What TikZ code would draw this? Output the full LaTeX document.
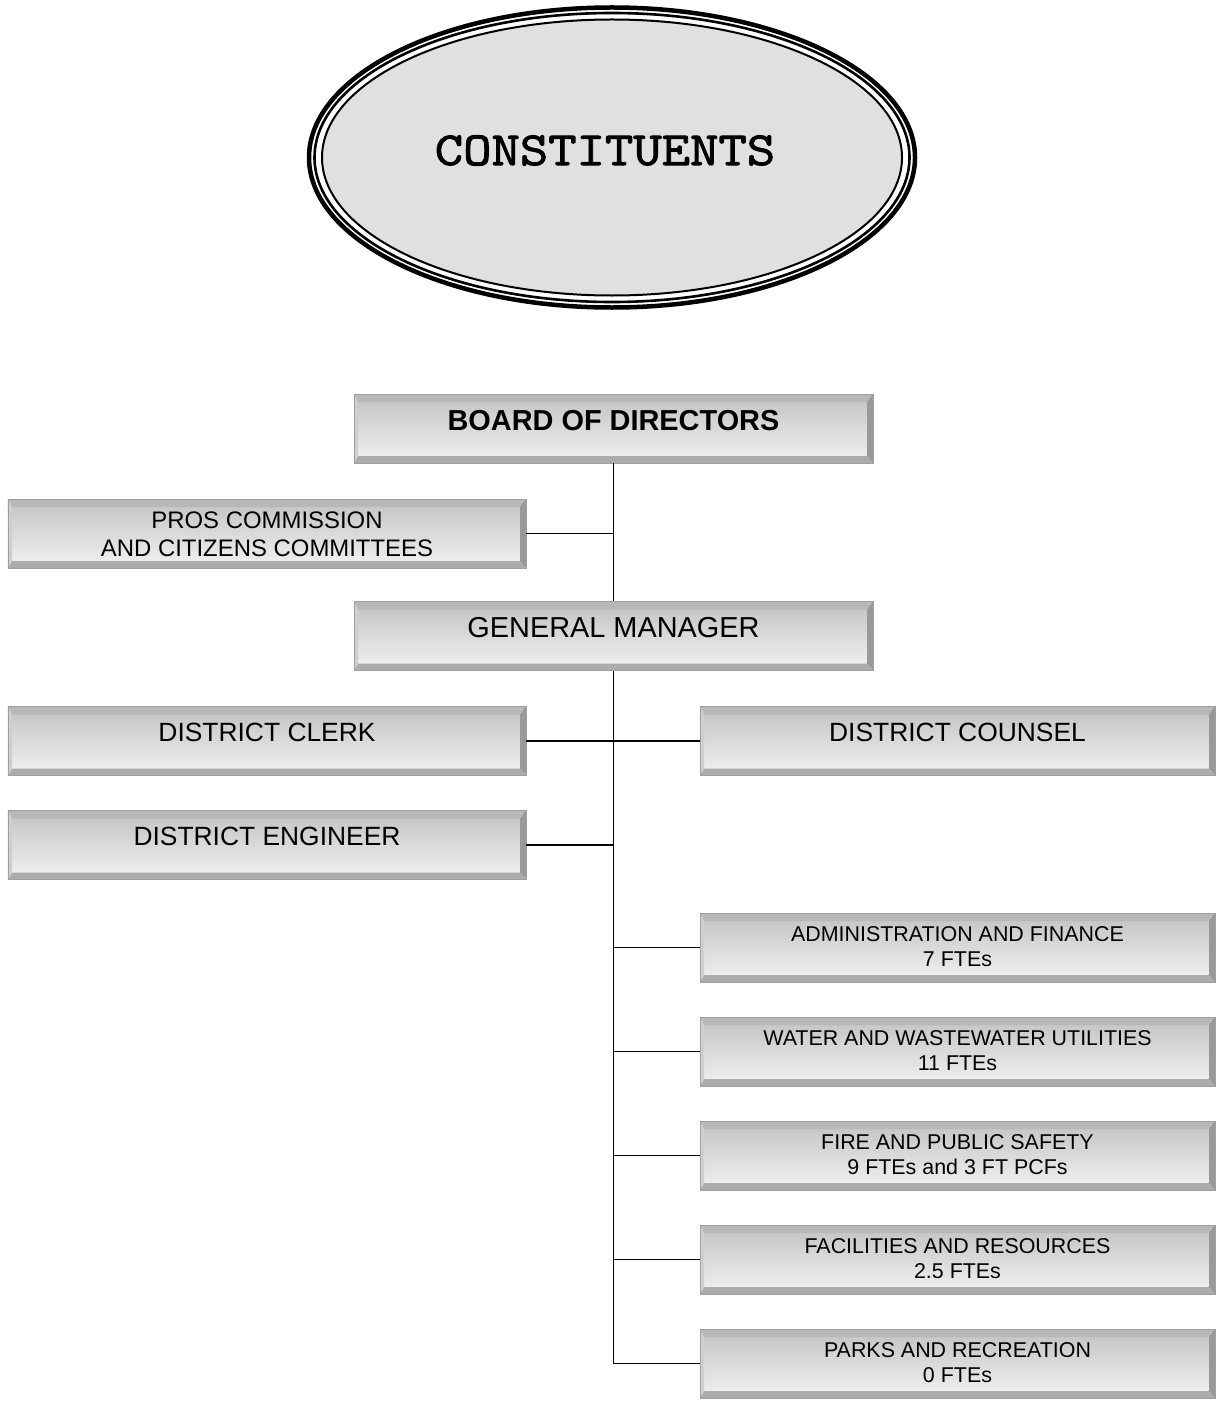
\documentclass[tikz,border=0pt]{standalone}
\usepackage{fontspec}
\setmainfont{Liberation Sans}
\newfontfamily\typewriter[FakeBold=1.8, FakeStretch=1.13]{lmmono10-regular.otf}
\usetikzlibrary{calc,shapes.geometric}

\tikzset{
  % bevelled grey panel used for every position in the chart
  panel/.style={rectangle, inner sep=0pt, minimum height=69bp, draw=gray!75, line width=0.6bp,
    path picture={
      \path (path picture bounding box.south west) coordinate (pSW)
            (path picture bounding box.north east) coordinate (pNE)
            (path picture bounding box.north west) coordinate (pNW)
            (path picture bounding box.south east) coordinate (pSE);
      \shade[top color=gray!48, bottom color=gray!10] (pSW) rectangle (pNE);
      \fill[gray!56] (pNW) -- (pNE) -- ($(pNE)+(-6bp,-8bp)$) -- ($(pNW)+(4bp,-8bp)$) -- cycle;
      \fill[gray!80] (pNE) -- (pSE) -- ($(pSE)+(-6bp,7bp)$) -- ($(pNE)+(-6bp,-8bp)$) -- cycle;
      \fill[gray!65] (pSW) -- (pSE) -- ($(pSE)+(-6bp,7bp)$) -- ($(pSW)+(4bp,7bp)$) -- cycle;
      \fill[gray!38] (pNW) -- (pSW) -- ($(pSW)+(4bp,7bp)$) -- ($(pNW)+(4bp,-8bp)$) -- cycle;
    }},
  leftpanel/.style={panel, minimum width=518bp},
  midpanel/.style={panel, minimum width=519bp},
  rightpanel/.style={panel, minimum width=515bp},
  bigtext/.style={font=\fontsize{29}{34}\selectfont, yshift=8bp},
  midtext/.style={font=\fontsize{26.5}{31}\selectfont, yshift=9bp},
  twoline/.style={font=\fontsize{24}{28}\selectfont, align=center, yshift=-1bp},
  unittext/.style={font=\fontsize{21.5}{25}\selectfont, align=center, yshift=1bp},
  link/.style={line width=1.4bp, black},
}

\begin{document}
\begin{tikzpicture}[x=1bp, y=-1bp]
\useasboundingbox[fill=white] (0,0) rectangle (1215,1401);

% constituents oval with its triple rim
\node[ellipse, minimum width=580bp, minimum height=276bp, fill=gray!24, draw=black, line width=2bp,
      label={[font=\typewriter\fontsize{48}{52}\selectfont, yshift=7bp, xshift=-7bp]center:CONSTITUENTS}]
      (constituents) at (612,157.5) {};
\draw[line width=2.6bp] (constituents.center) ellipse [x radius=297.5bp, y radius=144.5bp];
\draw[line width=4.5bp] (constituents.center) ellipse [x radius=303bp, y radius=150bp];

% positions
\node[midpanel, label={[bigtext]center:\bfseries BOARD OF DIRECTORS}] (board) at (613.5,428.5) {};
\node[leftpanel, label={[twoline]center:{PROS COMMISSION\\AND CITIZENS COMMITTEES}}] (pros) at (267,533.5) {};
\node[midpanel, label={[bigtext]center:GENERAL MANAGER}] (gm) at (613.5,636) {};
\node[leftpanel, label={[midtext]center:DISTRICT CLERK}] (clerk) at (267,741) {};
\node[rightpanel, label={[midtext]center:DISTRICT COUNSEL}] (counsel) at (957.5,741) {};
\node[leftpanel, label={[midtext]center:DISTRICT ENGINEER}] (engineer) at (267,845) {};
\node[rightpanel, label={[unittext]center:{ADMINISTRATION AND FINANCE\\7 FTEs}}] (admin) at (957.5,947.5) {};
\node[rightpanel, label={[unittext]center:{WATER AND WASTEWATER UTILITIES\\11 FTEs}}] (water) at (957.5,1051.5) {};
\node[rightpanel, label={[unittext]center:{FIRE AND PUBLIC SAFETY\\9 FTEs and 3 FT PCFs}}] (fire) at (957.5,1155.5) {};
\node[rightpanel, label={[unittext]center:{FACILITIES AND RESOURCES\\2.5 FTEs}}] (facilities) at (957.5,1259.5) {};
\node[rightpanel, label={[unittext]center:{PARKS AND RECREATION\\0 FTEs}}] (parks) at (957.5,1363.5) {};

% reporting lines
\draw[link] (board.south) -- (gm.north);
\draw[link] (pros.east) -- (pros.east -| board.south);
\draw[link] (gm.south) |- (parks.west);
\draw[link] (clerk.east) -- (counsel.west);
\draw[link] (engineer.east) -- (engineer.east -| gm.south);
\draw[link] (admin.west) -- (admin.west -| gm.south);
\draw[link] (water.west) -- (water.west -| gm.south);
\draw[link] (fire.west) -- (fire.west -| gm.south);
\draw[link] (facilities.west) -- (facilities.west -| gm.south);
\end{tikzpicture}
\end{document}
